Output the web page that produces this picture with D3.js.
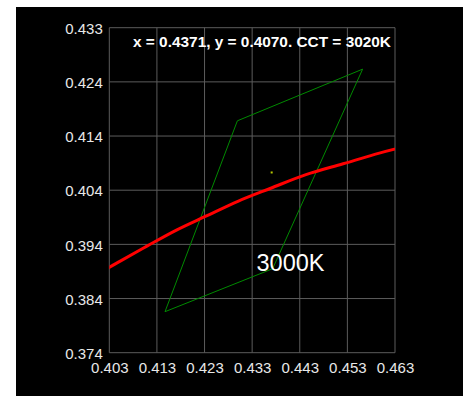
<!DOCTYPE html>
<html>
<head>
<meta charset="utf-8">
<script src="https://cdn.jsdelivr.net/npm/d3@7"></script>
<style>
  html, body { margin: 0; padding: 0; background: #ffffff; }
  svg { display: block; }
</style>
</head>
<body>
<svg id="chart" width="467" height="396"></svg>
<script>
// CIE 1931 chromaticity window around the 3000K ANSI bin
const xTickValues = [0.403, 0.413, 0.423, 0.433, 0.443, 0.453, 0.463];
const xTickLabels = ["0.403", "0.413", "0.423", "0.433", "0.443", "0.453", "0.463"];
const yDomain = [0.37386, 0.43362];
const yTickLabels = ["0.374", "0.384", "0.394", "0.404", "0.414", "0.424", "0.433"];

// ANSI C78.377 3000K quadrangle corners (x, y)
const binX = [0.4562, 0.4299, 0.4147, 0.4373];
const binY = [0.4260, 0.4165, 0.3814, 0.3893];

// Planckian locus samples (CCT in K, x, y)
const locusT = [3700, 3600, 3500, 3400, 3300, 3200, 3100, 3000, 2900, 2800, 2700, 2600];
const locusX = [0.3961, 0.4006, 0.4053, 0.4110, 0.4171, 0.4234, 0.4300, 0.4369, 0.4443, 0.4521, 0.4599, 0.4681];
const locusY = [0.3857, 0.3883, 0.3907, 0.3935, 0.3964, 0.3990, 0.4017, 0.4041, 0.4066, 0.4086, 0.4106, 0.4124];

// Measured chromaticity
const sampleX = 0.4371;
const sampleY = 0.4070;
const sampleCCT = 3020;
const binLabel = "3000K";

const svg = d3.select("#chart");

svg.append("rect")
  .attr("x", 16).attr("y", 7)
  .attr("width", 447).attr("height", 389)
  .attr("fill", "#000000");

const plotL = 109.3, plotR = 395, plotT = 27.7, plotB = 352.7;

const x = d3.scaleLinear().domain([xTickValues[0], xTickValues[xTickValues.length - 1]]).range([plotL, plotR]);
const y = d3.scaleLinear().domain(yDomain).range([plotB, plotT]);
const yTickValues = d3.range(7).map(i => yDomain[0] + i * (yDomain[1] - yDomain[0]) / 6);

const font = "'Liberation Sans', Arial, Helvetica, sans-serif";

// grid
const grid = svg.append("g").attr("stroke", "#5c5c5c").attr("stroke-width", 1);
grid.selectAll("line.v").data(xTickValues).join("line")
  .attr("class", "v")
  .attr("x1", d => x(d)).attr("x2", d => x(d))
  .attr("y1", plotT).attr("y2", plotB);
grid.selectAll("line.h").data(yTickValues).join("line")
  .attr("class", "h")
  .attr("x1", plotL).attr("x2", plotR)
  .attr("y1", d => y(d)).attr("y2", d => y(d));

// axis labels
const xAxis = d3.axisBottom(x).tickValues(xTickValues)
  .tickFormat((d, i) => xTickLabels[i]).tickSize(0).tickPadding(0);
const gx = svg.append("g").attr("transform", `translate(0,${plotB})`).call(xAxis);
gx.select(".domain").remove();
gx.selectAll("text")
  .attr("fill", "#e8e8e8").attr("font-family", font).attr("font-size", 15)
  .attr("dy", null).attr("y", 20.8);

const yAxis = d3.axisLeft(y).tickValues(yTickValues)
  .tickFormat((d, i) => yTickLabels[i]).tickSize(0).tickPadding(6.5);
const gy = svg.append("g").attr("transform", `translate(${plotL},0)`).call(yAxis);
gy.select(".domain").remove();
gy.selectAll("text")
  .attr("fill", "#e8e8e8").attr("font-family", font).attr("font-size", 15)
  .attr("dy", "0.38em");

svg.append("clipPath").attr("id", "plotClip")
  .append("rect").attr("x", plotL).attr("y", plotT)
  .attr("width", plotR - plotL).attr("height", plotB - plotT);

// ANSI quadrangle
const binPts = binX.map((v, i) => [x(v), y(binY[i])]);
svg.append("path")
  .attr("d", d3.line().curve(d3.curveLinearClosed)(binPts))
  .attr("fill", "none")
  .attr("stroke", "#008a00")
  .attr("stroke-width", 1);

// Planckian locus
const locusPts = locusX.map((v, i) => [x(v), y(locusY[i])]);
svg.append("path")
  .attr("clip-path", "url(#plotClip)")
  .attr("d", d3.line().curve(d3.curveCatmullRom)(locusPts))
  .attr("fill", "none")
  .attr("stroke", "#ff0000")
  .attr("stroke-width", 3);

// measured point
svg.append("rect")
  .attr("x", x(sampleX) - 1).attr("y", y(sampleY) - 1)
  .attr("width", 2).attr("height", 2)
  .attr("fill", "#b8c800");

// annotations
svg.append("text")
  .attr("x", 391).attr("y", 46.7)
  .attr("text-anchor", "end")
  .attr("fill", "#ffffff")
  .attr("font-family", font)
  .attr("font-weight", "bold")
  .attr("font-size", 15.4)
  .text(`x = ${sampleX.toFixed(4)}, y = ${sampleY.toFixed(4)}. CCT = ${sampleCCT}K`);

svg.append("text")
  .attr("x", 256.5).attr("y", 271)
  .attr("fill", "#ffffff")
  .attr("font-family", font)
  .attr("font-size", 23.5)
  .text(binLabel);
</script>
</body>
</html>
